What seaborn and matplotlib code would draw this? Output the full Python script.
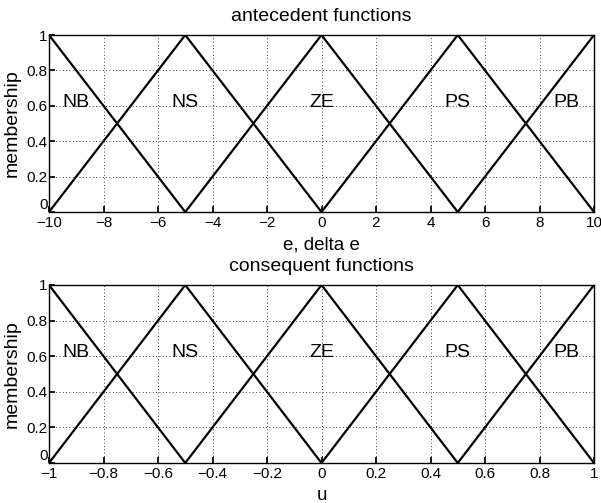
import numpy as np
import pandas as pd
import matplotlib
matplotlib.use("Agg")
import matplotlib.pyplot as plt
import seaborn as sns

# Membership function definitions (triangle break points and peak values)
labels = ["NB", "NS", "ZE", "PS", "PB"]
e_points = [[-10, -10, -5], [-10, -5, 0], [-5, 0, 5], [0, 5, 10], [5, 10, 10]]
u_points = [[-1, -1, -0.5], [-1, -0.5, 0], [-0.5, 0, 0.5], [0, 0.5, 1], [0.5, 1, 1]]
e_levels = [[1, 1, 0], [0, 1, 0], [0, 1, 0], [0, 1, 0], [0, 1, 1]]
u_levels = [[1, 1, 0], [0, 1, 0], [0, 1, 0], [0, 1, 0], [0, 1, 1]]

# Label anchors
e_label_x = [-9, -5, 0, 5, 9]
u_label_x = [-0.9, -0.5, 0, 0.5, 0.9]
label_y = 0.62

e_ticks = [-10, -8, -6, -4, -2, 0, 2, 4, 6, 8, 10]
u_ticks = [-1, -0.8, -0.6, -0.4, -0.2, 0, 0.2, 0.4, 0.6, 0.8, 1]
y_ticks = [0, 0.2, 0.4, 0.6, 0.8, 1]

sns.set_theme(style="ticks")
plt.rcParams["font.family"] = ["Liberation Sans", "DejaVu Sans"]

AX_W = 545
AX_H = 177


def build_frame(points, levels):
    rows = []
    for name, xs, ys in zip(labels, points, levels):
        for x, y in zip(xs, ys):
            rows.append({"set": name, "x": x, "mu": y})
    return pd.DataFrame(rows)


def tick_text(v):
    s = ("%g" % v)
    return s.replace("-", "\u2212")


def draw(ax, points, levels, label_x, ticks, title, xlabel):
    df = build_frame(points, levels)
    sns.lineplot(data=df, x="x", y="mu", units="set", estimator=None,
                 sort=False, color="black", linewidth=1.6, ax=ax)
    for name, lx in zip(labels, label_x):
        ax.text(lx, label_y, name, ha="center", va="center", fontsize=14,
                color="black")
    ax.set_xlim(ticks[0], ticks[-1])
    ax.set_ylim(0, 1)
    ax.set_xticks(ticks)
    ax.set_xticklabels([tick_text(t) for t in ticks])
    ax.set_yticks(y_ticks)
    ax.set_yticklabels([tick_text(t) for t in y_ticks])
    ax.grid(True, color="black", linestyle=(0, (1, 3)), linewidth=0.6)
    ax.tick_params(direction="in", length=4, labelsize=11, colors="black")
    ax.tick_params(axis="x", pad=3)
    ax.tick_params(axis="y", pad=1)
    # keep the lowest y label clear of the first x label
    ax.get_yticklabels()[0].set_verticalalignment("bottom")
    for sp in ax.spines.values():
        sp.set_visible(True)
        sp.set_color("black")
        sp.set_linewidth(1.0)
    ax.set_title(title, fontsize=14, pad=10, color="black")
    ax.set_xlabel(xlabel, fontsize=13.5, color="black")
    ax.set_ylabel("membership", fontsize=14, color="black")
    ax.xaxis.set_label_coords(0.5, -24 / AX_H)
    ax.yaxis.set_label_coords(-28 / AX_W, 0.5)


fig = plt.figure(figsize=(6.01, 5.03), dpi=100)
ax1 = fig.add_axes([49 / 601, 1 - 212 / 503, AX_W / 601, AX_H / 503])
ax2 = fig.add_axes([49 / 601, 1 - 463 / 503, AX_W / 601, 178 / 503])

draw(ax1, e_points, e_levels, e_label_x, e_ticks, "antecedent functions", "e, delta e")
draw(ax2, u_points, u_levels, u_label_x, u_ticks, "consequent functions", "u")

fig.savefig("out.png", dpi=100, facecolor="white")
